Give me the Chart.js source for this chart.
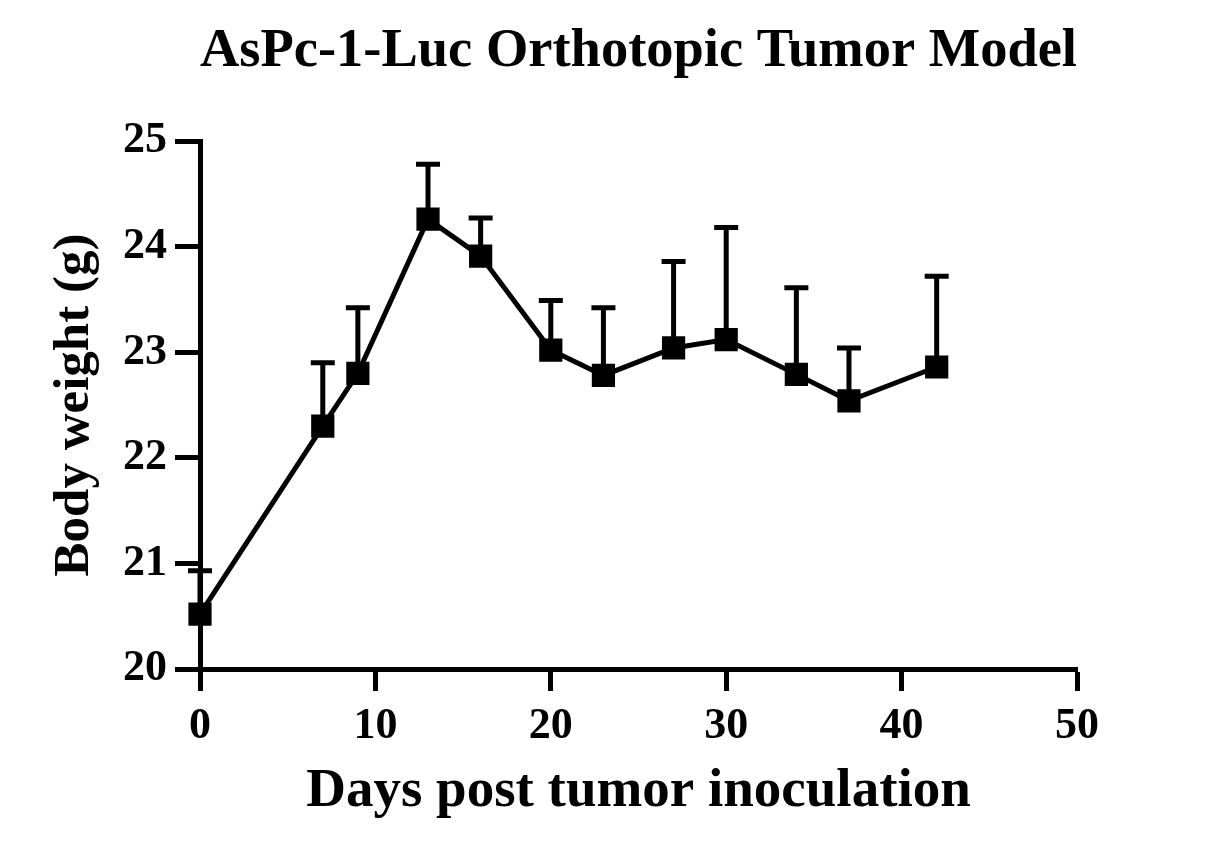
<!DOCTYPE html>
<html>
<head>
<meta charset="utf-8">
<script src="https://cdn.jsdelivr.net/npm/chart.js@4/dist/chart.umd.min.js"></script>
<style>
  html, body { margin: 0; padding: 0; background: #fff; }
  #c { display: block; }
</style>
</head>
<body>
<canvas id="c" width="1212" height="859"></canvas>
<script>
// values
const days = [0, 7, 9, 13, 16, 20, 23, 27, 30, 34, 37, 42];
const bodyWeight = [20.52, 22.30, 22.80, 24.26, 23.91, 23.02, 22.78, 23.04, 23.12, 22.79, 22.54, 22.86];
const errorUp = [0.41, 0.60, 0.62, 0.52, 0.36, 0.47, 0.64, 0.82, 1.06, 0.82, 0.50, 0.86];
const xTicks = [0, 10, 20, 30, 40, 50];
const yTicks = [20, 21, 22, 23, 24, 25];

const serif = "'Liberation Serif', 'Times New Roman', serif";

// upper error bars, drawn under the markers
const errorBars = {
  id: 'errorBars',
  beforeDatasetsDraw(chart) {
    const ctx = chart.ctx;
    const xs = chart.scales.x, ys = chart.scales.y;
    ctx.save();
    ctx.strokeStyle = '#000';
    ctx.lineWidth = 5;
    ctx.lineCap = 'butt';
    days.forEach((d, i) => {
      const px = xs.getPixelForValue(d);
      const py = ys.getPixelForValue(bodyWeight[i]);
      const top = ys.getPixelForValue(bodyWeight[i] + errorUp[i]);
      ctx.beginPath();
      ctx.moveTo(px, py);
      ctx.lineTo(px, top);
      ctx.moveTo(px - 12, top);
      ctx.lineTo(px + 12, top);
      ctx.stroke();
    });
    ctx.restore();
  }
};

new Chart(document.getElementById('c'), {
  type: 'line',
  data: {
    datasets: [{
      data: days.map((d, i) => ({ x: d, y: bodyWeight[i] })),
      borderColor: '#000',
      borderWidth: 5,
      backgroundColor: '#000',
      pointStyle: 'rect',
      pointRadius: 15,
      pointBorderWidth: 2,
      pointBackgroundColor: '#000',
      pointBorderColor: '#000',
      tension: 0,
      clip: false
    }]
  },
  options: {
    responsive: false,
    animation: false,
    devicePixelRatio: 1,
    layout: { padding: { left: 0, right: 135, top: 0, bottom: 0 } },
    plugins: {
      legend: { display: false },
      tooltip: { enabled: false },
      title: {
        display: true,
        fullSize: false,
        text: 'AsPc-1-Luc Orthotopic Tumor Model',
        color: '#000',
        font: { family: serif, size: 55, weight: 'bold' },
        padding: { top: 19, bottom: 56 }
      }
    },
    scales: {
      x: {
        type: 'linear',
        min: 0,
        max: 50,
        afterFit: s => { s.height = 190; },
        afterBuildTicks: s => { s.ticks = xTicks.map(v => ({ value: v })); },
        grid: { display: true, drawOnChartArea: false, drawTicks: true, tickLength: 22, tickWidth: 5, tickColor: '#000' },
        border: { display: true, color: '#000', width: 5 },
        ticks: { color: '#000', padding: 9, maxRotation: 0, font: { family: serif, size: 44, weight: 'bold' } },
        title: {
          display: true,
          text: 'Days post tumor inoculation',
          color: '#000',
          font: { family: serif, size: 55, weight: 'bold' },
          padding: { top: 0, bottom: 34 }
        }
      },
      y: {
        min: 20,
        max: 25,
        afterFit: s => { s.width = 200; },
        afterBuildTicks: s => { s.ticks = yTicks.map(v => ({ value: v })); },
        grid: { display: true, drawOnChartArea: false, drawTicks: true, tickLength: 25, tickWidth: 5, tickColor: '#000' },
        border: { display: true, color: '#000', width: 5 },
        ticks: { color: '#000', padding: 8, font: { family: serif, size: 44, weight: 'bold' } },
        title: {
          display: true,
          text: 'Body weight (g)',
          color: '#000',
          font: { family: serif, size: 51, weight: 'bold' },
          padding: { top: 44, bottom: 0 }
        }
      }
    }
  },
  plugins: [errorBars]
});
</script>
</body>
</html>
